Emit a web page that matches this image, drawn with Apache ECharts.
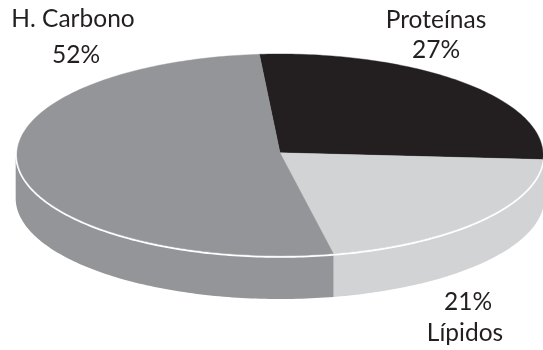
<!DOCTYPE html>
<html>
<head>
<meta charset="utf-8">
<script src="https://cdn.jsdelivr.net/npm/echarts@6/dist/echarts.min.js"></script>
<style>
  html, body { margin: 0; padding: 0; background: #fff; }
  #chart { width: 543px; height: 350px; }
</style>
</head>
<body>
<div id="chart"></div>
<script>
// Energy share by macronutrient, drawn as a tilted disc with a visible wall.
const categories = ['Proteínas', 'Lípidos', 'H. Carbono'];
const values = [27, 21, 52];
const colors = ['#231f20', '#d1d3d4', '#939598'];

// First slice edge, in degrees clockwise from the top of the disc.
const START_DEG = -4.5;
// Height of the disc wall and the hub lift, in units of the disc's short radius.
const WALL = 0.43;
const HUB_LIFT = 0.02;
const ARC_STEP = 1;

// Where each caption sits: name line and percent line centres.
const captionSpots = [
  { name: [436, 20], pct: [436, 50] },
  { name: [465, 333], pct: [468, 302] },
  { name: [73, 19], pct: [76, 55] }
];

const total = values.reduce((a, b) => a + b, 0);
let running = START_DEG;
const slices = values.map((v, i) => {
  const from = running;
  running += (v / total) * 360;
  return [from, running, i];
});

const onRim = (deg, scaleX, scaleY, dropY) => {
  const r = (deg * Math.PI) / 180;
  return [Math.sin(r) * scaleX, Math.cos(r) * scaleY - dropY];
};

const arc = (from, to, scaleX, scaleY, dropY) => {
  const pts = [];
  for (let a = from; a < to; a += ARC_STEP) pts.push(onRim(a, scaleX, scaleY, dropY));
  pts.push(onRim(to, scaleX, scaleY, dropY));
  return pts;
};

const toPixels = (api, pts) => pts.map((p) => api.coord(p));

const renderWall = (params, api) => {
  const from = Math.max(api.value(0), 90);
  const to = Math.min(api.value(1), 270);
  if (to <= from) return null;
  const upper = arc(from, to, 1.005, 1, 0);
  const lower = arc(from, to, 1.005, 1, WALL).reverse();
  return {
    type: 'polygon',
    shape: { points: toPixels(api, upper.concat(lower)) },
    style: { fill: colors[api.value(2)] }
  };
};

const renderTop = (params, api) => {
  const edge = arc(api.value(0), api.value(1), 1, 1, 0);
  const hub = [0, HUB_LIFT];
  return {
    type: 'polygon',
    shape: { points: toPixels(api, [hub].concat(edge)) },
    style: { fill: colors[api.value(2)], stroke: colors[api.value(2)], lineWidth: 0.4 }
  };
};

const renderRim = (params, api) => ({
  type: 'polyline',
  shape: { points: toPixels(api, arc(88, 272, 1.003, 1.012, 0)) },
  style: { stroke: '#ffffff', fill: null, lineWidth: 2 }
});

const captionStyle = { font: '24.5px Lato', fill: '#231f20', textAlign: 'center', textVerticalAlign: 'middle' };
const captions = [];
categories.forEach((name, i) => {
  captions.push({ type: 'text', x: captionSpots[i].name[0], y: captionSpots[i].name[1], style: { ...captionStyle, text: name } });
  captions.push({ type: 'text', x: captionSpots[i].pct[0], y: captionSpots[i].pct[1], style: { ...captionStyle, text: values[i] + '%' } });
});

const chart = echarts.init(document.getElementById('chart'), null, { renderer: 'canvas' });
chart.setOption({
  animation: false,
  backgroundColor: '#ffffff',
  grid: { left: 17, top: 54, width: 530, height: 245, containLabel: false },
  xAxis: { type: 'value', min: -1, max: 1, show: false },
  yAxis: { type: 'value', min: -1 - WALL, max: 1, show: false },
  graphic: captions,
  series: [
    { type: 'custom', z: 1, clip: false, silent: true, data: slices, renderItem: renderWall },
    { type: 'custom', z: 2, clip: false, silent: true, data: [[0]], renderItem: renderRim },
    { type: 'custom', z: 3, clip: false, silent: true, data: slices, renderItem: renderTop }
  ]
});
</script>
</body>
</html>
